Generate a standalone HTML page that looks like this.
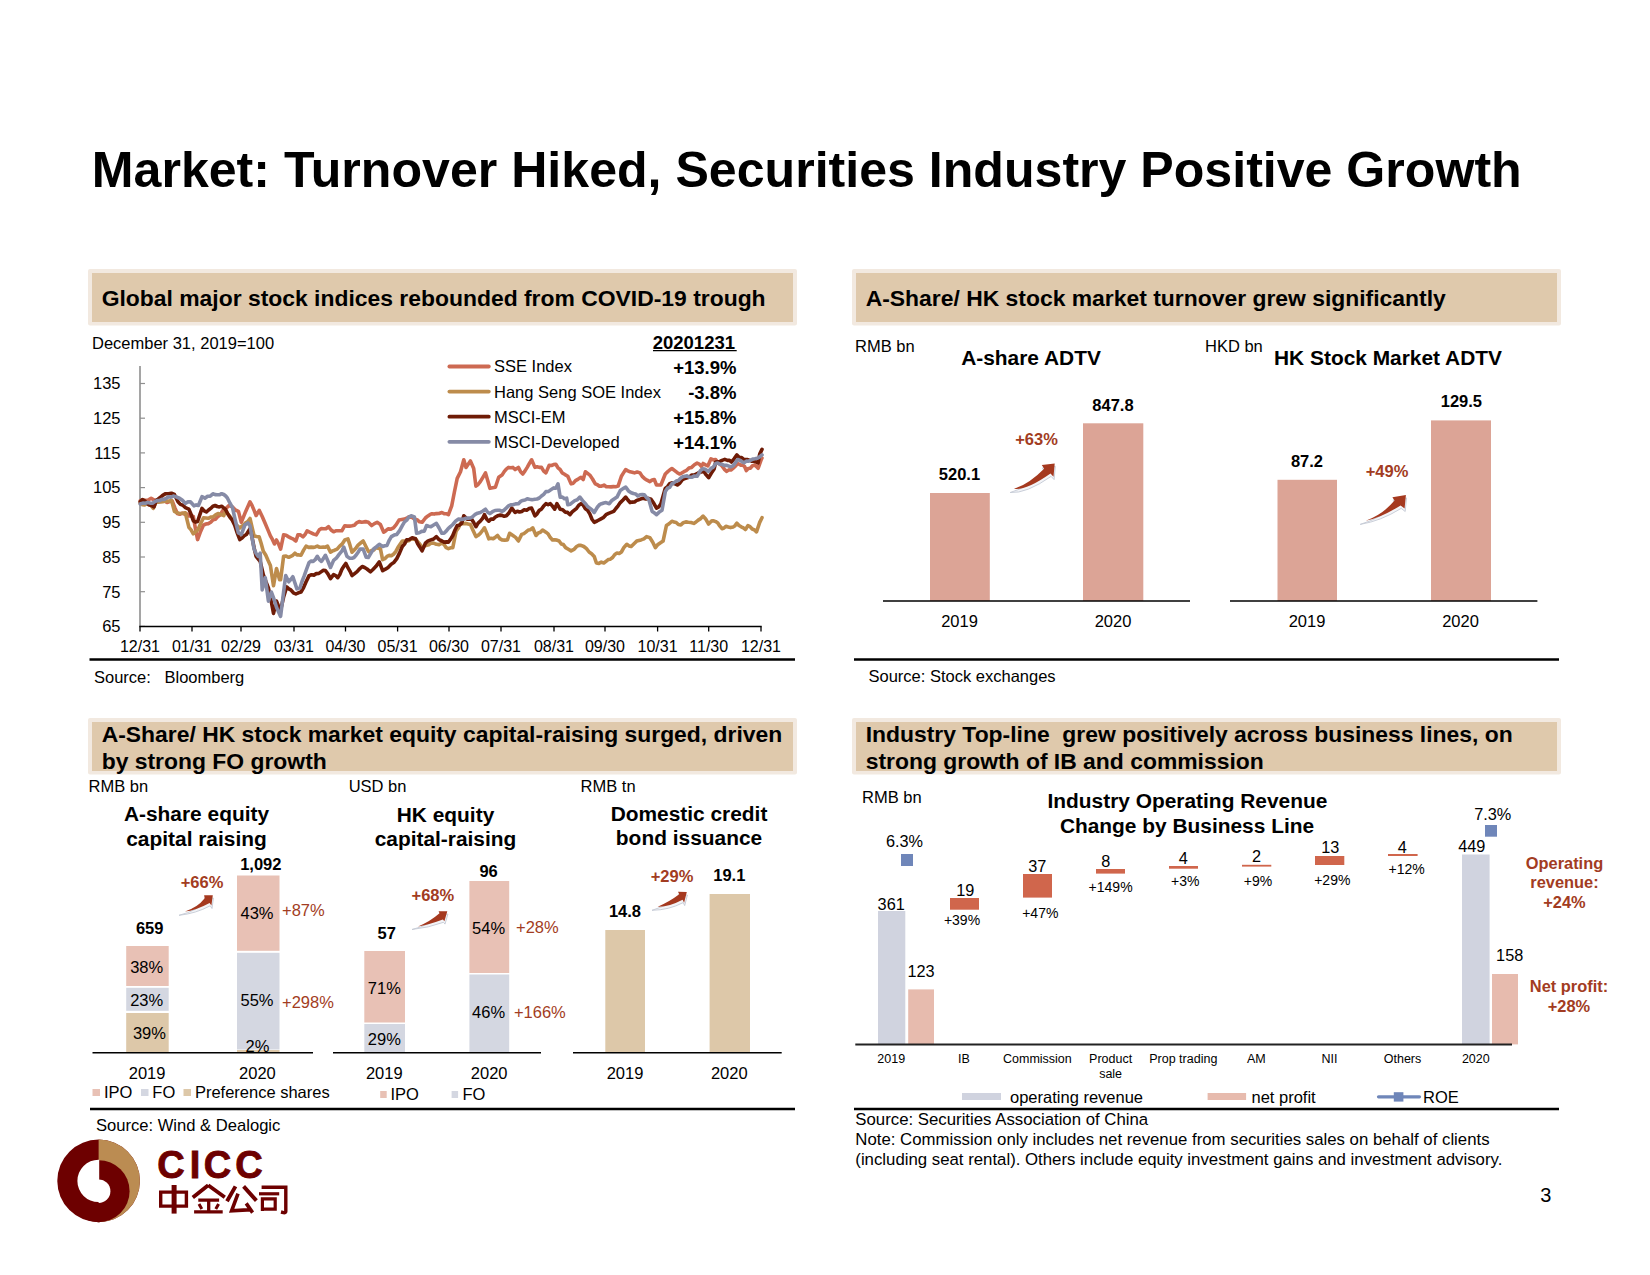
<!DOCTYPE html>
<html><head><meta charset="utf-8"><style>
html,body{margin:0;padding:0;background:#fff;}
body{width:1650px;height:1275px;overflow:hidden;}
svg{display:block;font-family:"Liberation Sans",sans-serif;}
</style></head><body>
<svg width="1650" height="1275" viewBox="0 0 1650 1275">
<rect width="1650" height="1275" fill="#fff"/>
<text x="91.8" y="187" font-size="50.1" font-weight="bold">Market: Turnover Hiked, Securities Industry Positive Growth</text>
<rect x="88" y="269" width="709" height="56.5" rx="2" fill="#f2e9e0"/>
<rect x="92" y="273" width="701" height="49.0" fill="#dfc9ac"/>
<rect x="852" y="269" width="709" height="56.5" rx="2" fill="#f2e9e0"/>
<rect x="856" y="273" width="701" height="49.0" fill="#dfc9ac"/>
<rect x="88" y="718" width="709" height="56.5" rx="2" fill="#f2e9e0"/>
<rect x="92" y="722" width="701" height="49.0" fill="#dfc9ac"/>
<rect x="852" y="718" width="709" height="56.5" rx="2" fill="#f2e9e0"/>
<rect x="856" y="722" width="701" height="49.0" fill="#dfc9ac"/>
<text x="101.7" y="305.5" font-size="22.9" font-weight="bold">Global major stock indices rebounded from COVID-19 trough</text>
<text x="865.7" y="305.5" font-size="22.9" font-weight="bold">A-Share/ HK stock market turnover grew significantly</text>
<text x="101.7" y="741.7" font-size="22.9" font-weight="bold">A-Share/ HK stock market equity capital-raising surged, driven</text>
<text x="101.7" y="768.6" font-size="22.9" font-weight="bold">by strong FO growth</text>
<text x="865.7" y="741.7" font-size="22.9" font-weight="bold">Industry Top-line&#160; grew positively across business lines, on</text>
<text x="865.7" y="768.6" font-size="22.9" font-weight="bold">strong growth of IB and commission</text>
<text x="92" y="349" font-size="16.5">December 31, 2019=100</text>
<line x1="140" y1="366" x2="140" y2="626.4" stroke="#8f8f8f" stroke-width="1.6"/>
<line x1="140" y1="383.5" x2="145" y2="383.5" stroke="#8f8f8f" stroke-width="1.2"/>
<text x="120.5" y="389.3" font-size="16.5" text-anchor="end">135</text>
<line x1="140" y1="418.2" x2="145" y2="418.2" stroke="#8f8f8f" stroke-width="1.2"/>
<text x="120.5" y="424.0" font-size="16.5" text-anchor="end">125</text>
<line x1="140" y1="452.9" x2="145" y2="452.9" stroke="#8f8f8f" stroke-width="1.2"/>
<text x="120.5" y="458.7" font-size="16.5" text-anchor="end">115</text>
<line x1="140" y1="487.6" x2="145" y2="487.6" stroke="#8f8f8f" stroke-width="1.2"/>
<text x="120.5" y="493.4" font-size="16.5" text-anchor="end">105</text>
<line x1="140" y1="522.3" x2="145" y2="522.3" stroke="#8f8f8f" stroke-width="1.2"/>
<text x="120.5" y="528.1" font-size="16.5" text-anchor="end">95</text>
<line x1="140" y1="557.0" x2="145" y2="557.0" stroke="#8f8f8f" stroke-width="1.2"/>
<text x="120.5" y="562.8" font-size="16.5" text-anchor="end">85</text>
<line x1="140" y1="591.7" x2="145" y2="591.7" stroke="#8f8f8f" stroke-width="1.2"/>
<text x="120.5" y="597.5" font-size="16.5" text-anchor="end">75</text>
<line x1="140" y1="626.4" x2="145" y2="626.4" stroke="#8f8f8f" stroke-width="1.2"/>
<text x="120.5" y="632.2" font-size="16.5" text-anchor="end">65</text>
<line x1="140" y1="626.4" x2="140" y2="631.5" stroke="#000" stroke-width="1.3"/>
<text x="140" y="652" font-size="16" text-anchor="middle">12/31</text>
<line x1="192" y1="626.4" x2="192" y2="631.5" stroke="#000" stroke-width="1.3"/>
<text x="192" y="652" font-size="16" text-anchor="middle">01/31</text>
<line x1="241" y1="626.4" x2="241" y2="631.5" stroke="#000" stroke-width="1.3"/>
<text x="241" y="652" font-size="16" text-anchor="middle">02/29</text>
<line x1="294" y1="626.4" x2="294" y2="631.5" stroke="#000" stroke-width="1.3"/>
<text x="294" y="652" font-size="16" text-anchor="middle">03/31</text>
<line x1="345.5" y1="626.4" x2="345.5" y2="631.5" stroke="#000" stroke-width="1.3"/>
<text x="345.5" y="652" font-size="16" text-anchor="middle">04/30</text>
<line x1="397.6" y1="626.4" x2="397.6" y2="631.5" stroke="#000" stroke-width="1.3"/>
<text x="397.6" y="652" font-size="16" text-anchor="middle">05/31</text>
<line x1="449" y1="626.4" x2="449" y2="631.5" stroke="#000" stroke-width="1.3"/>
<text x="449" y="652" font-size="16" text-anchor="middle">06/30</text>
<line x1="501" y1="626.4" x2="501" y2="631.5" stroke="#000" stroke-width="1.3"/>
<text x="501" y="652" font-size="16" text-anchor="middle">07/31</text>
<line x1="554" y1="626.4" x2="554" y2="631.5" stroke="#000" stroke-width="1.3"/>
<text x="554" y="652" font-size="16" text-anchor="middle">08/31</text>
<line x1="605" y1="626.4" x2="605" y2="631.5" stroke="#000" stroke-width="1.3"/>
<text x="605" y="652" font-size="16" text-anchor="middle">09/30</text>
<line x1="657.6" y1="626.4" x2="657.6" y2="631.5" stroke="#000" stroke-width="1.3"/>
<text x="657.6" y="652" font-size="16" text-anchor="middle">10/31</text>
<line x1="708.7" y1="626.4" x2="708.7" y2="631.5" stroke="#000" stroke-width="1.3"/>
<text x="708.7" y="652" font-size="16" text-anchor="middle">11/30</text>
<line x1="761" y1="626.4" x2="761" y2="631.5" stroke="#000" stroke-width="1.3"/>
<text x="761" y="652" font-size="16" text-anchor="middle">12/31</text>
<line x1="139.3" y1="626.4" x2="761.7" y2="626.4" stroke="#000" stroke-width="1.5"/>
<g fill="none" stroke-width="3.6" stroke-linejoin="round" stroke-linecap="round">
<polyline stroke="#cd6a52" points="140.2,501.0 142.8,500.0 145.3,500.4 148.2,500.0 151.1,498.2 154.7,500.4 157.2,499.8 159.8,498.2 162.2,499.1 164.7,501.1 167.1,502.5 169.6,501.6 172.2,501.0 174.8,507.6 177.3,513.5 179.7,514.3 182.1,513.2 184.5,514.2 186.7,513.8 188.9,516.0 191.1,515.7 193.3,516.4 195.4,528.5 197.6,539.6 200.6,531.4 203.5,525.1 205.9,524.0 208.3,523.6 210.7,522.2 213.1,519.7 215.6,519.2 218.0,516.4 220.2,515.0 222.4,511.1 224.5,508.9 226.7,507.8 228.9,505.5 232.5,506.9 235.4,510.0 238.4,511.3 241.3,522.2 243.5,516.9 245.7,511.4 247.8,506.7 250.0,501.8 252.0,505.4 254.1,510.4 256.1,515.5 259.2,510.4 262.2,516.5 264.9,522.8 267.7,529.4 270.4,535.9 272.4,539.4 274.5,544.0 276.5,540.0 278.6,544.0 280.6,549.1 283.6,534.9 286.1,535.3 288.7,536.9 291.1,538.2 293.5,539.2 295.9,541.0 297.9,534.9 300.4,534.9 303.0,536.9 305.1,534.5 307.1,530.8 309.1,531.9 311.2,532.8 313.8,534.1 316.3,534.9 319.3,529.8 321.4,528.6 323.4,528.7 325.9,528.7 328.5,526.7 331.1,530.0 333.6,531.8 336.3,530.7 339.1,530.8 341.8,530.8 344.8,525.7 347.2,526.1 349.6,526.1 352.0,525.7 354.4,525.2 356.7,522.8 359.1,521.6 361.5,522.3 363.8,521.9 366.2,521.6 368.3,522.3 371.6,525.6 374.4,523.6 377.1,522.3 380.4,524.5 383.7,532.2 385.9,530.7 388.1,528.9 390.8,529.1 393.5,527.8 396.2,524.6 399.0,520.1 401.8,519.6 404.5,519.1 406.7,518.2 408.9,516.9 411.6,517.1 414.4,519.1 417.0,519.7 419.5,521.8 422.1,522.3 425.4,518.0 427.6,516.2 429.8,514.7 432.0,513.7 434.2,514.1 436.4,513.6 439.1,513.5 441.9,512.5 444.1,513.6 446.2,513.7 448.4,514.7 451.7,505.9 454.4,492.0 457.2,478.4 460.5,471.8 463.8,459.8 466.0,467.4 468.2,464.2 470.4,460.9 473.7,468.5 475.9,486.1 478.1,484.5 480.3,481.7 482.9,477.3 485.5,472.9 487.7,480.4 489.9,488.3 492.6,487.7 495.4,487.2 498.7,477.3 502.0,475.1 504.2,471.6 506.3,469.1 508.5,467.4 510.7,467.8 512.9,467.4 515.1,469.6 518.4,467.4 520.6,471.7 522.8,474.0 525.0,470.9 527.2,467.4 529.4,463.4 531.6,459.8 534.9,467.4 537.1,466.7 539.3,467.4 541.5,467.4 543.7,471.1 545.9,472.9 549.2,465.3 551.4,465.5 553.6,464.6 555.8,464.2 558.0,467.8 560.1,469.5 562.3,472.9 565.0,474.6 567.8,476.2 571.1,483.9 573.3,483.2 575.5,480.6 578.2,479.1 581.0,477.3 583.2,479.5 585.4,471.8 587.6,473.4 589.8,475.1 592.5,479.0 595.3,483.9 597.4,484.7 599.5,486.3 601.6,486.1 604.0,485.1 606.3,486.7 608.7,486.7 611.0,486.9 613.4,486.6 615.7,486.7 618.1,486.1 621.4,476.2 623.5,472.9 625.7,469.6 627.9,470.8 630.1,471.8 632.3,472.2 634.5,472.9 637.2,472.0 640.0,472.9 642.2,476.4 644.4,478.4 647.1,480.2 649.9,481.7 652.1,480.0 654.3,479.5 656.5,485.0 658.7,485.0 660.9,485.0 663.1,479.5 665.3,474.0 667.5,471.9 669.7,470.0 671.9,468.5 674.4,470.4 677.0,472.4 679.5,474.0 681.7,473.1 683.9,471.7 686.1,470.7 688.9,468.1 691.6,467.4 694.4,464.7 697.1,463.1 699.3,464.1 701.5,466.4 703.1,463.5 705.5,464.9 707.8,465.9 711.0,458.8 713.4,459.9 715.7,459.6 717.8,462.3 719.9,464.4 722.0,465.9 724.4,469.3 726.7,471.4 728.8,469.9 730.9,470.0 733.0,468.3 735.4,466.2 737.7,463.5 740.8,465.1 742.8,465.1 744.7,466.7 746.3,470.6 748.2,468.5 750.2,468.3 752.5,465.7 754.9,465.1 758.1,468.3 761.2,459.6 762.0,458.0"/>
<polyline stroke="#bd8c4c" points="140.2,503.3 142.4,504.6 144.6,504.9 146.7,503.5 148.9,504.7 151.1,505.7 153.3,508.4 156.2,501.8 158.4,502.3 160.6,502.0 162.7,501.7 164.9,500.9 167.1,501.1 169.3,501.0 171.5,500.4 174.4,511.3 176.9,512.6 179.5,513.5 182.4,513.3 185.3,512.7 188.9,527.3 191.1,529.9 193.3,533.8 195.4,531.9 197.6,530.2 200.6,523.8 203.5,517.8 205.9,518.0 208.3,518.3 210.7,517.1 213.1,516.8 215.6,514.8 218.0,513.5 220.9,514.4 223.8,515.6 225.3,511.3 227.7,513.9 230.0,516.5 232.3,519.6 234.7,523.6 237.2,525.7 239.8,528.0 241.7,526.2 243.5,525.1 245.7,522.7 247.8,521.5 250.0,518.5 252.1,527.3 254.1,535.9 256.6,536.5 259.2,536.9 261.2,543.5 263.3,551.2 265.7,555.0 268.0,560.3 270.4,565.4 273.5,585.8 276.5,568.5 279.6,579.7 280.6,579.7 283.6,556.3 286.1,556.1 288.7,557.3 290.8,556.3 292.8,555.3 294.9,553.2 296.9,554.9 299.0,554.9 301.0,555.3 303.6,550.1 306.1,546.1 308.6,547.4 311.2,547.1 313.2,547.4 315.3,546.9 317.3,546.1 319.3,547.2 321.4,547.3 323.4,547.1 325.4,547.2 327.5,546.1 330.5,552.2 332.6,550.9 334.6,550.2 337.1,549.1 339.7,546.1 342.2,544.0 344.8,540.0 347.9,538.9 349.9,544.9 352.0,552.2 354.0,550.3 356.1,547.9 358.1,545.1 360.6,543.0 363.2,541.0 365.8,546.2 368.3,551.2 369.4,552.0 371.6,550.5 373.8,549.9 376.0,547.6 378.2,548.2 380.4,548.7 382.6,559.7 384.8,558.7 387.0,556.4 389.2,555.4 391.3,555.7 393.5,554.2 395.7,551.7 397.9,547.6 400.1,544.2 402.3,541.0 404.5,541.1 406.7,541.0 408.9,540.7 411.1,538.8 413.3,539.2 415.5,538.8 417.7,541.7 419.9,544.1 422.1,547.6 424.3,546.1 426.5,545.4 428.7,544.7 430.9,543.2 433.6,543.1 436.4,544.3 439.1,544.6 441.9,543.2 444.1,544.6 446.2,547.7 448.4,548.7 450.6,547.8 452.8,547.6 456.1,531.1 458.3,528.2 460.5,523.4 463.2,523.8 466.0,523.4 468.2,524.0 470.4,524.5 473.1,530.6 475.9,536.6 478.1,535.3 480.3,533.3 482.4,530.7 484.4,527.8 486.6,532.9 488.8,538.8 491.0,538.2 493.2,538.8 495.4,537.2 497.6,535.5 499.8,538.6 502.0,539.9 504.7,540.1 507.4,539.9 509.6,533.3 512.9,535.5 515.6,537.4 518.4,541.0 521.7,534.4 523.9,533.6 526.1,531.9 528.3,530.0 530.5,529.7 532.7,527.8 536.0,535.5 538.2,533.0 540.4,532.3 542.6,530.0 545.9,532.2 548.1,533.9 550.3,537.6 552.5,539.9 554.7,539.8 556.9,540.1 559.1,541.0 561.3,544.0 563.4,544.6 565.6,547.6 568.4,549.3 571.1,550.9 573.9,549.4 576.6,546.5 578.8,545.4 581.0,545.4 583.8,546.5 586.5,548.7 589.1,552.0 591.6,553.7 594.2,556.4 596.4,563.0 598.9,563.4 601.3,562.1 603.8,563.0 606.0,561.3 608.2,559.6 610.4,559.2 612.6,557.5 614.8,554.5 617.0,553.1 619.2,553.5 621.4,552.0 624.1,547.2 626.8,544.3 629.0,545.9 631.2,546.5 634.5,543.2 636.7,541.1 638.9,540.5 641.1,539.9 643.9,538.9 646.6,536.6 649.9,537.7 652.6,542.0 655.4,547.6 657.6,544.8 659.8,543.2 663.1,541.0 666.4,525.6 669.1,523.8 671.9,521.2 674.1,522.1 676.2,522.5 678.4,524.5 680.9,524.9 683.3,522.7 685.8,521.9 688.3,522.3 691.0,522.5 693.8,523.4 696.0,522.0 698.2,520.1 700.7,518.6 703.1,516.1 705.9,519.3 708.6,524.0 711.8,520.8 713.8,520.9 715.7,521.6 717.8,523.0 719.9,526.2 722.0,528.7 724.0,528.0 725.9,526.3 728.3,527.0 730.6,527.6 733.0,527.1 735.0,525.7 736.9,523.2 739.0,525.5 741.2,526.8 743.4,527.9 745.5,529.5 747.9,525.6 750.0,526.6 752.2,529.0 754.4,529.9 756.5,531.8 759.7,522.4 762.0,517.7"/>
<polyline stroke="#6e1b06" points="140.2,501.8 142.4,499.6 144.6,500.8 146.7,503.1 148.9,504.7 151.4,505.5 154.0,506.9 156.2,500.4 158.4,498.9 160.5,497.3 162.7,495.3 165.6,493.7 168.5,493.8 171.4,493.2 174.4,494.5 178.0,501.8 180.4,504.4 182.9,505.2 185.3,507.6 188.9,509.1 191.1,514.4 193.3,520.7 195.4,522.1 197.6,521.5 199.8,514.9 202.0,508.4 204.2,510.9 206.4,512.0 208.6,510.0 210.7,508.4 212.9,506.2 215.1,505.5 217.2,506.5 219.4,506.9 221.6,506.2 223.4,507.7 225.3,509.1 227.7,513.6 230.0,517.4 232.3,520.2 234.7,525.1 237.2,532.9 239.8,539.6 242.0,538.1 244.2,535.8 246.4,534.5 250.0,528.7 252.0,537.0 254.1,547.8 256.1,556.3 258.1,558.8 260.2,561.4 263.3,574.6 265.9,581.7 268.4,587.9 271.4,602.2 273.5,613.4 276.5,601.1 278.6,606.5 280.6,610.3 283.6,597.1 286.7,586.9 288.8,588.8 290.8,589.9 293.4,592.8 295.9,594.0 298.4,592.8 301.0,592.0 303.6,587.5 306.1,581.8 309.1,575.6 311.5,574.8 313.9,575.1 316.3,573.6 318.9,573.4 321.4,571.6 323.4,570.2 325.4,570.5 327.9,573.9 330.5,578.7 333.6,574.6 335.6,575.6 337.7,577.7 339.8,574.5 341.8,569.5 343.8,566.3 345.8,563.4 347.9,567.7 349.9,571.1 352.0,575.6 354.6,573.6 357.1,571.6 359.6,568.8 362.2,566.5 364.6,567.5 367.0,569.0 370.5,571.8 373.2,569.2 376.0,566.3 379.3,561.9 382.6,570.7 385.4,569.2 388.1,567.4 391.4,564.1 394.1,562.2 396.8,558.6 399.6,552.9 402.3,546.5 404.5,544.1 406.7,539.9 409.4,539.5 412.2,537.7 415.5,538.8 417.7,543.8 419.9,547.2 422.1,550.9 425.4,543.2 428.1,540.9 430.9,539.9 433.6,539.0 436.4,536.6 439.1,539.7 441.9,541.0 444.1,542.2 446.2,541.9 448.4,542.1 450.6,539.2 452.8,535.5 455.0,530.0 457.2,525.6 459.4,525.2 461.6,523.4 463.8,515.8 467.1,519.1 469.3,519.2 471.5,519.1 473.7,522.5 475.9,526.7 478.1,523.1 480.3,521.2 482.4,518.7 484.4,514.7 486.6,518.9 488.8,521.2 491.0,519.0 493.2,519.1 495.4,517.0 497.6,515.8 499.8,515.1 502.0,515.4 504.2,516.3 506.4,515.8 509.1,512.7 511.8,508.1 515.1,512.5 517.3,511.2 519.5,512.0 521.7,511.4 524.2,509.7 526.7,510.2 529.1,508.6 531.6,508.1 534.9,515.8 537.1,513.8 539.3,510.3 541.5,509.1 543.7,505.9 545.9,503.7 548.1,504.7 550.3,503.7 552.5,506.1 554.7,509.2 556.9,503.7 560.2,509.2 562.7,509.7 565.1,512.1 567.5,512.4 570.0,514.7 572.2,511.9 574.4,510.1 576.6,508.3 578.8,505.2 581.0,503.7 583.2,505.0 585.4,508.8 587.6,510.3 589.8,513.9 592.0,519.2 594.2,522.3 597.0,521.0 600.5,519.1 603.2,517.7 606.0,514.7 608.6,513.4 611.1,512.4 613.7,511.4 615.9,508.5 618.1,505.8 620.3,502.6 623.0,500.0 625.7,497.1 627.9,500.0 630.1,502.6 632.3,502.1 634.5,502.0 636.7,500.4 638.9,499.7 641.1,498.8 643.3,498.2 645.9,499.0 648.4,498.4 651.0,499.3 653.8,503.3 656.5,508.1 658.7,506.9 660.9,503.7 663.1,496.0 665.3,488.3 667.5,486.6 669.7,483.7 671.9,482.8 674.6,483.7 677.3,485.0 679.9,483.0 682.4,479.6 685.0,478.4 687.2,477.8 689.4,477.0 691.6,475.0 693.8,475.1 696.0,474.3 698.2,472.9 701.0,472.1 703.9,471.4 706.2,474.9 708.6,477.7 711.4,473.1 714.1,469.0 715.7,462.0 717.8,461.9 719.9,461.4 722.0,460.4 724.8,459.4 727.5,460.4 729.5,460.3 731.4,462.0 734.1,458.8 736.9,454.9 739.3,457.4 741.6,457.5 744.0,459.6 747.1,459.6 749.3,460.2 751.5,461.1 753.7,461.2 755.9,461.9 758.1,462.8 759.7,454.1 762.0,449.4"/>
<polyline stroke="#868ba6" points="140.2,504.0 142.8,503.1 145.3,503.3 147.7,502.5 150.1,503.1 152.5,503.3 154.9,501.6 157.4,500.5 159.8,500.4 162.0,499.3 164.2,499.4 166.3,498.2 168.5,496.7 170.9,497.2 173.4,496.1 175.8,496.7 177.7,497.5 179.5,498.2 182.4,500.3 185.3,503.3 187.9,501.9 190.4,501.8 194.0,505.8 196.2,504.9 198.4,505.5 202.0,496.7 204.9,498.2 207.6,496.2 210.2,496.1 212.9,493.8 215.1,494.6 217.3,494.7 219.4,494.8 221.6,493.7 223.8,494.5 225.7,496.0 227.5,498.2 230.0,503.2 232.5,507.6 235.4,520.8 238.4,533.0 241.3,534.5 244.9,525.0 247.8,522.9 250.0,525.7 252.1,538.1 254.1,549.1 256.1,553.5 258.2,556.3 260.2,553.2 262.2,589.9 265.3,577.7 268.4,601.1 271.4,592.0 273.9,598.8 276.5,607.3 278.6,612.1 280.6,616.4 283.6,592.0 285.7,575.6 288.7,581.8 290.8,579.6 292.8,576.7 294.9,582.8 296.9,588.9 300.0,587.9 302.0,581.5 304.1,576.2 306.1,570.5 309.1,562.4 311.1,561.1 313.2,561.4 315.2,559.7 317.3,556.3 319.4,559.6 321.4,561.4 323.4,558.4 325.4,555.3 327.9,561.0 330.5,567.5 333.6,560.4 336.3,558.2 339.1,554.4 341.8,551.2 343.8,547.1 346.9,556.3 349.4,558.1 352.0,558.3 354.0,557.5 356.0,555.3 358.1,552.2 360.1,549.1 363.2,549.1 366.2,557.3 368.3,557.5 371.1,552.9 373.8,548.7 376.6,546.7 379.3,544.3 382.6,546.5 384.8,545.8 387.0,545.4 389.2,540.3 391.4,536.6 394.1,535.1 396.8,534.4 399.6,530.6 402.3,525.6 404.5,521.9 406.7,520.1 408.9,517.0 411.1,515.8 414.4,516.9 416.6,533.3 419.2,532.8 421.7,531.4 424.3,531.1 426.5,525.6 428.7,526.2 430.9,526.7 433.6,525.0 436.4,523.4 439.1,528.0 441.9,533.3 444.0,533.2 446.2,531.1 448.4,528.3 450.6,526.5 452.8,524.5 455.6,521.2 458.3,519.1 461.1,519.4 463.8,519.1 466.0,518.3 468.2,518.1 470.4,518.0 472.6,516.8 474.8,514.7 477.6,513.2 480.3,512.5 482.9,511.0 485.5,509.2 487.7,512.2 489.9,513.6 492.5,511.7 495.0,510.5 497.6,510.3 499.8,510.3 502.0,511.4 504.2,510.1 506.3,508.0 508.5,505.9 510.7,504.8 512.9,504.8 515.6,503.9 518.4,503.7 520.6,501.4 522.8,500.4 525.0,500.0 527.2,498.8 529.4,499.3 532.1,499.7 534.9,499.3 537.1,499.0 539.3,498.0 541.5,496.0 543.7,494.3 545.9,491.6 548.6,491.4 551.4,489.4 553.6,487.9 555.8,488.3 558.0,483.9 560.2,497.1 562.4,497.0 564.5,498.8 566.7,498.2 567.8,504.8 570.0,504.3 572.2,502.6 574.8,500.6 577.3,499.8 579.9,497.1 582.6,500.6 585.4,503.7 587.6,506.5 589.8,508.1 592.0,509.9 594.2,512.5 597.5,507.0 599.5,504.7 601.6,503.7 603.8,503.0 606.0,502.6 609.3,503.7 611.5,500.8 613.7,499.3 617.0,497.1 620.3,490.5 623.0,488.6 625.7,487.2 628.5,490.9 631.2,492.7 633.4,493.5 635.6,493.9 637.8,496.0 640.0,494.7 642.2,494.6 644.4,494.9 646.6,497.7 648.8,499.3 652.1,511.4 654.3,512.8 656.5,514.7 659.2,512.1 662.0,510.3 665.3,491.6 667.5,488.2 669.7,487.4 671.9,483.9 674.1,482.6 676.2,481.1 678.4,480.6 680.6,478.3 682.8,476.8 685.0,476.2 687.2,475.9 689.4,477.3 691.6,477.3 694.4,476.0 697.1,476.2 700.4,470.7 702.5,468.9 704.7,469.0 706.7,470.2 708.6,471.4 711.0,468.3 713.3,467.1 715.7,463.5 717.8,463.0 719.9,464.1 722.0,464.3 724.1,465.4 726.2,465.2 728.3,465.9 730.6,466.9 733.0,465.9 735.4,462.7 737.7,459.6 739.8,460.2 741.9,461.6 744.0,462.8 746.4,461.1 748.7,461.2 750.8,460.2 752.8,459.1 754.9,458.8 757.3,458.3 759.6,456.9 762.0,454.9"/>
</g>
<text x="735" y="348.8" font-size="18.5" font-weight="bold" text-anchor="end">20201231</text>
<line x1="653" y1="350.6" x2="736.7" y2="350.6" stroke="#000" stroke-width="1.3"/>
<line x1="449.4" y1="366.5" x2="488.8" y2="366.5" stroke="#cd6a52" stroke-width="3.8" stroke-linecap="round"/>
<text x="494" y="372.4" font-size="16.5">SSE Index</text>
<text x="736.5" y="374.0" font-size="18.5" font-weight="bold" text-anchor="end">+13.9%</text>
<line x1="449.4" y1="391.6" x2="488.8" y2="391.6" stroke="#bd8c4c" stroke-width="3.8" stroke-linecap="round"/>
<text x="494" y="397.5" font-size="16.5">Hang Seng SOE Index</text>
<text x="736.5" y="399.1" font-size="18.5" font-weight="bold" text-anchor="end">-3.8%</text>
<line x1="449.4" y1="416.7" x2="488.8" y2="416.7" stroke="#6e1b06" stroke-width="3.8" stroke-linecap="round"/>
<text x="494" y="422.6" font-size="16.5">MSCI-EM</text>
<text x="736.5" y="424.2" font-size="18.5" font-weight="bold" text-anchor="end">+15.8%</text>
<line x1="449.4" y1="441.8" x2="488.8" y2="441.8" stroke="#868ba6" stroke-width="3.8" stroke-linecap="round"/>
<text x="494" y="447.7" font-size="16.5">MSCI-Developed</text>
<text x="736.5" y="449.3" font-size="18.5" font-weight="bold" text-anchor="end">+14.1%</text>
<line x1="89.5" y1="659.5" x2="795" y2="659.5" stroke="#000" stroke-width="2.6"/>
<text x="94" y="682.7" font-size="16.5">Source:</text>
<text x="164.5" y="682.7" font-size="16.5">Bloomberg</text>
<text x="855" y="351.8" font-size="16.5">RMB bn</text>
<text x="1031" y="364.6" font-size="20.9" font-weight="bold" text-anchor="middle">A-share ADTV</text>
<rect x="930" y="493" width="59.8" height="108" fill="#dca496"/>
<rect x="1083" y="423.3" width="60.3" height="177.7" fill="#dca496"/>
<line x1="883" y1="601" x2="1190" y2="601" stroke="#000" stroke-width="1.6"/>
<text x="959.5" y="479.6" font-size="16.5" font-weight="bold" text-anchor="middle">520.1</text>
<text x="1113" y="410.6" font-size="16.5" font-weight="bold" text-anchor="middle">847.8</text>
<text x="1036.5" y="444.6" font-size="16.5" font-weight="bold" text-anchor="middle" fill="#a23c22">+63%</text>
<text x="959.5" y="627.3" font-size="16.5" text-anchor="middle">2019</text>
<text x="1113" y="627.3" font-size="16.5" text-anchor="middle">2020</text>
<text x="1205" y="351.7" font-size="16.5">HKD bn</text>
<text x="1388" y="364.8" font-size="20.9" font-weight="bold" text-anchor="middle">HK Stock Market ADTV</text>
<rect x="1277.5" y="479.8" width="59.5" height="121.2" fill="#dca496"/>
<rect x="1431" y="420.4" width="60" height="180.6" fill="#dca496"/>
<line x1="1230" y1="601" x2="1537.4" y2="601" stroke="#000" stroke-width="1.6"/>
<text x="1307" y="466.8" font-size="16.5" font-weight="bold" text-anchor="middle">87.2</text>
<text x="1461.4" y="406.9" font-size="16.5" font-weight="bold" text-anchor="middle">129.5</text>
<text x="1387" y="476.9" font-size="16.5" font-weight="bold" text-anchor="middle" fill="#a23c22">+49%</text>
<text x="1307" y="627.2" font-size="16.5" text-anchor="middle">2019</text>
<text x="1460.5" y="627.2" font-size="16.5" text-anchor="middle">2020</text>
<line x1="854" y1="659.5" x2="1559" y2="659.5" stroke="#000" stroke-width="2.6"/>
<text x="868.5" y="681.5" font-size="16.5">Source: Stock exchanges</text>
<path d="M1010.20,492.50 Q1029.55,486.95 1044.70,471.60 L1042.40,468.00 L1055.30,466.30 L1054.10,479.60 L1051.10,476.40 Q1026.35,493.75 1010.20,492.50 Z" fill="#f3f4f7" stroke="#c4c9d5" stroke-width="0.9"/>
<path d="M1014.00,488.80 Q1028.95,484.05 1044.10,468.70 L1041.80,465.10 L1054.70,463.40 L1053.50,476.70 L1050.50,473.50 Q1025.75,490.85 1014.00,488.80 Z" fill="#a5391f"/>
<path d="M1360.20,524.40 Q1383.45,517.45 1395.10,503.50 L1393.00,500.10 L1406.50,497.90 L1405.20,511.50 L1401.20,508.40 Q1380.40,521.20 1360.20,524.40 Z" fill="#f3f4f7" stroke="#c4c9d5" stroke-width="0.9"/>
<path d="M1365.80,520.70 Q1382.85,514.55 1394.50,500.60 L1392.40,497.20 L1405.90,495.00 L1404.60,508.60 L1400.60,505.50 Q1379.80,518.30 1365.80,520.70 Z" fill="#a5391f"/>
<path d="M179.00,915.30 Q198.15,910.45 205.30,901.20 L204.70,898.20 L213.40,898.10 L212.00,908.50 L210.20,905.80 Q195.70,913.55 179.00,915.30 Z" fill="#f3f4f7" stroke="#c4c9d5" stroke-width="0.9"/>
<path d="M185.00,911.40 Q197.55,907.55 204.70,898.30 L204.10,895.30 L212.80,895.20 L211.40,905.60 L209.60,902.90 Q195.10,910.65 185.00,911.40 Z" fill="#a5391f"/>
<path d="M412.00,929.50 Q430.25,924.85 440.10,916.20 L439.20,914.10 L447.90,914.10 L445.00,924.10 L443.50,922.30 Q428.55,927.80 412.00,929.50 Z" fill="#f3f4f7" stroke="#c4c9d5" stroke-width="0.9"/>
<path d="M418.00,926.40 Q429.65,921.95 439.50,913.30 L438.60,911.20 L447.30,911.20 L444.40,921.20 L442.90,919.40 Q427.95,924.90 418.00,926.40 Z" fill="#a5391f"/>
<path d="M652.00,910.30 Q670.55,904.25 679.80,897.10 L678.60,894.60 L687.40,895.00 L684.70,905.60 L683.20,902.60 Q668.85,910.10 652.00,910.30 Z" fill="#f3f4f7" stroke="#c4c9d5" stroke-width="0.9"/>
<path d="M657.70,906.70 Q669.95,901.35 679.20,894.20 L678.00,891.70 L686.80,892.10 L684.10,902.70 L682.60,899.70 Q668.25,907.20 657.70,906.70 Z" fill="#a5391f"/>
<text x="88.5" y="792.2" font-size="16.5">RMB bn</text>
<text x="196.5" y="820.9" font-size="20.9" font-weight="bold" text-anchor="middle">A-share equity</text>
<text x="196.5" y="845.8" font-size="20.9" font-weight="bold" text-anchor="middle">capital raising</text>
<rect x="126.2" y="946" width="42.5" height="40" fill="#e8c1b5"/>
<rect x="126.2" y="987.8" width="42.5" height="23" fill="#d4d7e1"/>
<rect x="126.2" y="1013" width="42.5" height="39.5" fill="#ddc8a9"/>
<rect x="237" y="875.5" width="42.5" height="75.3" fill="#e8c1b5"/>
<rect x="237" y="952.8" width="42.5" height="96.7" fill="#d4d7e1"/>
<rect x="237" y="1050" width="42.5" height="2.5" fill="#ddc8a9"/>
<line x1="92.5" y1="1052.7" x2="313" y2="1052.7" stroke="#000" stroke-width="1.5"/>
<text x="260.8" y="869.5" font-size="16.5" font-weight="bold" text-anchor="middle">1,092</text>
<text x="202" y="887.8" font-size="16.5" font-weight="bold" text-anchor="middle" fill="#a23c22">+66%</text>
<text x="149.7" y="933.6" font-size="16.5" font-weight="bold" text-anchor="middle">659</text>
<text x="257" y="919.4" font-size="16.5" text-anchor="middle">43%</text>
<text x="282" y="916" font-size="16.5" fill="#a23c22">+87%</text>
<text x="146.7" y="972.8" font-size="16.5" text-anchor="middle">38%</text>
<text x="146.7" y="1005.8" font-size="16.5" text-anchor="middle">23%</text>
<text x="257" y="1005.8" font-size="16.5" text-anchor="middle">55%</text>
<text x="282" y="1007.5" font-size="16.5" fill="#a23c22">+298%</text>
<text x="149.4" y="1038.8" font-size="16.5" text-anchor="middle">39%</text>
<text x="257.4" y="1052.3" font-size="16.5" text-anchor="middle">2%</text>
<text x="147.1" y="1079" font-size="16.5" text-anchor="middle">2019</text>
<text x="257.4" y="1079" font-size="16.5" text-anchor="middle">2020</text>
<rect x="92.5" y="1089" width="7.5" height="7" fill="#e8c1b5"/>
<text x="103.9" y="1097.6" font-size="16.5">IPO</text>
<rect x="141" y="1089" width="7.5" height="7" fill="#d4d7e1"/>
<text x="152.3" y="1097.6" font-size="16.5">FO</text>
<rect x="183.5" y="1089" width="7.5" height="7" fill="#ddc8a9"/>
<text x="194.9" y="1097.6" font-size="16.5">Preference shares</text>
<text x="348.7" y="792.2" font-size="16.5">USD bn</text>
<text x="445.5" y="821.6" font-size="20.9" font-weight="bold" text-anchor="middle">HK equity</text>
<text x="445.5" y="845.5" font-size="20.9" font-weight="bold" text-anchor="middle">capital-raising</text>
<rect x="364.3" y="951" width="40.7" height="71.5" fill="#e8c1b5"/>
<rect x="364.3" y="1024" width="40.7" height="28.5" fill="#d4d7e1"/>
<rect x="469.4" y="881" width="39.8" height="92" fill="#e8c1b5"/>
<rect x="469.4" y="974.5" width="39.8" height="78" fill="#d4d7e1"/>
<line x1="333" y1="1052.7" x2="541" y2="1052.7" stroke="#000" stroke-width="1.5"/>
<text x="488.6" y="876.5" font-size="16.5" font-weight="bold" text-anchor="middle">96</text>
<text x="432.9" y="901.4" font-size="16.5" font-weight="bold" text-anchor="middle" fill="#a23c22">+68%</text>
<text x="386.8" y="939.3" font-size="16.5" font-weight="bold" text-anchor="middle">57</text>
<text x="488.6" y="933.8" font-size="16.5" text-anchor="middle">54%</text>
<text x="516" y="933" font-size="16.5" fill="#a23c22">+28%</text>
<text x="384.3" y="993.7" font-size="16.5" text-anchor="middle">71%</text>
<text x="488.6" y="1017.8" font-size="16.5" text-anchor="middle">46%</text>
<text x="513.9" y="1017.8" font-size="16.5" fill="#a23c22">+166%</text>
<text x="384.3" y="1045.3" font-size="16.5" text-anchor="middle">29%</text>
<text x="384.3" y="1079" font-size="16.5" text-anchor="middle">2019</text>
<text x="489.2" y="1079" font-size="16.5" text-anchor="middle">2020</text>
<rect x="380.2" y="1091" width="6.5" height="7" fill="#e8c1b5"/>
<text x="390.4" y="1099.6" font-size="16.5">IPO</text>
<rect x="451.6" y="1091" width="6.5" height="7" fill="#d4d7e1"/>
<text x="462.5" y="1099.6" font-size="16.5">FO</text>
<text x="580.6" y="792.2" font-size="16.5">RMB tn</text>
<text x="689" y="820.8" font-size="20.9" font-weight="bold" text-anchor="middle">Domestic credit</text>
<text x="689" y="844.9" font-size="20.9" font-weight="bold" text-anchor="middle">bond issuance</text>
<rect x="605.3" y="930" width="39.7" height="122.5" fill="#ddc8a9"/>
<rect x="709.6" y="894" width="40.4" height="158.5" fill="#ddc8a9"/>
<line x1="573" y1="1052.7" x2="781.7" y2="1052.7" stroke="#000" stroke-width="1.5"/>
<text x="672" y="882" font-size="16.5" font-weight="bold" text-anchor="middle" fill="#a23c22">+29%</text>
<text x="729.3" y="880.6" font-size="16.5" font-weight="bold" text-anchor="middle">19.1</text>
<text x="625" y="917.3" font-size="16.5" font-weight="bold" text-anchor="middle">14.8</text>
<text x="625" y="1079" font-size="16.5" text-anchor="middle">2019</text>
<text x="729.3" y="1079" font-size="16.5" text-anchor="middle">2020</text>
<line x1="90" y1="1109" x2="795" y2="1109" stroke="#000" stroke-width="2.6"/>
<text x="95.9" y="1131.4" font-size="16.6">Source: Wind &amp; Dealogic</text>
<text x="862" y="803" font-size="16.5">RMB bn</text>
<text x="1187.4" y="807.9" font-size="20.9" font-weight="bold" text-anchor="middle">Industry Operating Revenue</text>
<text x="1187" y="832.9" font-size="20.9" font-weight="bold" text-anchor="middle">Change by Business Line</text>
<rect x="878" y="911" width="27.3" height="133.4" fill="#d0d3df"/>
<rect x="908.2" y="989.4" width="25.8" height="55" fill="#e7bbae"/>
<rect x="1462" y="854.5" width="27.6" height="189.9" fill="#d0d3df"/>
<rect x="1492" y="974" width="26" height="70.4" fill="#e7bbae"/>
<rect x="950" y="898" width="29" height="11.700000000000045" fill="#d0664c"/>
<rect x="1023" y="874" width="29" height="23.600000000000023" fill="#d0664c"/>
<rect x="1096" y="869" width="29" height="4.600000000000023" fill="#d0664c"/>
<rect x="1169" y="866" width="29" height="2.7000000000000455" fill="#d0664c"/>
<rect x="1242" y="864.8" width="29.299999999999955" height="1.8000000000000682" fill="#d0664c"/>
<rect x="1315" y="856" width="29.299999999999955" height="9" fill="#d0664c"/>
<rect x="1388" y="854" width="29.59999999999991" height="2" fill="#d0664c"/>
<rect x="901" y="854" width="12" height="12" fill="#6f86b9"/>
<rect x="1485" y="825" width="12" height="11.7" fill="#6f86b9"/>
<line x1="855.3" y1="1044.6" x2="1512" y2="1044.6" stroke="#222" stroke-width="2"/>
<text x="904.5" y="846.7" font-size="16.3" text-anchor="middle">6.3%</text>
<text x="1492.7" y="819.6" font-size="16.3" text-anchor="middle">7.3%</text>
<text x="891.2" y="909.8" font-size="16.3" text-anchor="middle">361</text>
<text x="921" y="976.5" font-size="16.3" text-anchor="middle">123</text>
<text x="1471.8" y="852.2" font-size="16.3" text-anchor="middle">449</text>
<text x="1509.7" y="960.8" font-size="16.3" text-anchor="middle">158</text>
<text x="965.2" y="896" font-size="16.3" text-anchor="middle">19</text>
<text x="1037.2" y="871.6" font-size="16.3" text-anchor="middle">37</text>
<text x="1105.8" y="867.3" font-size="16.3" text-anchor="middle">8</text>
<text x="1183.3" y="863.6" font-size="16.3" text-anchor="middle">4</text>
<text x="1256.5" y="861.6" font-size="16.3" text-anchor="middle">2</text>
<text x="1330.3" y="853" font-size="16.3" text-anchor="middle">13</text>
<text x="1402.3" y="852.7" font-size="16.3" text-anchor="middle">4</text>
<text x="962" y="925" font-size="14" text-anchor="middle">+39%</text>
<text x="1040.3" y="917.8" font-size="14" text-anchor="middle">+47%</text>
<text x="1110.6" y="891.5" font-size="14" text-anchor="middle">+149%</text>
<text x="1185.3" y="885.5" font-size="14" text-anchor="middle">+3%</text>
<text x="1258" y="885.8" font-size="14" text-anchor="middle">+9%</text>
<text x="1332.3" y="884.5" font-size="14" text-anchor="middle">+29%</text>
<text x="1406.7" y="873.8" font-size="14" text-anchor="middle">+12%</text>
<text x="891.2" y="1062.8" font-size="12.5" text-anchor="middle">2019</text>
<text x="964" y="1062.8" font-size="12.5" text-anchor="middle">IB</text>
<text x="1037.4" y="1062.8" font-size="12.5" text-anchor="middle">Commission</text>
<text x="1110.6" y="1062.8" font-size="12.5" text-anchor="middle">Product</text>
<text x="1183.3" y="1062.8" font-size="12.5" text-anchor="middle">Prop trading</text>
<text x="1256.4" y="1062.8" font-size="12.5" text-anchor="middle">AM</text>
<text x="1329.6" y="1062.8" font-size="12.5" text-anchor="middle">NII</text>
<text x="1402.5" y="1062.8" font-size="12.5" text-anchor="middle">Others</text>
<text x="1475.8" y="1062.8" font-size="12.5" text-anchor="middle">2020</text>
<text x="1110.6" y="1077.9" font-size="12.5" text-anchor="middle">sale</text>
<text x="1564.5" y="868.5" font-size="16.4" font-weight="bold" text-anchor="middle" fill="#a23c22">Operating</text>
<text x="1564.5" y="888.4" font-size="16.4" font-weight="bold" text-anchor="middle" fill="#a23c22">revenue:</text>
<text x="1564.5" y="908.4" font-size="16.4" font-weight="bold" text-anchor="middle" fill="#a23c22">+24%</text>
<text x="1569" y="991.8" font-size="16.4" font-weight="bold" text-anchor="middle" fill="#a23c22">Net profit:</text>
<text x="1569" y="1012.2" font-size="16.4" font-weight="bold" text-anchor="middle" fill="#a23c22">+28%</text>
<rect x="962" y="1093" width="39" height="7" fill="#d0d3df"/>
<text x="1010" y="1103" font-size="16.5">operating revenue</text>
<rect x="1207.6" y="1093" width="38.5" height="7" fill="#e7bbae"/>
<text x="1251.5" y="1103" font-size="16.5">net profit</text>
<line x1="1378.5" y1="1096.8" x2="1419.5" y2="1096.8" stroke="#6f86b9" stroke-width="3.2" stroke-linecap="round"/>
<rect x="1393.8" y="1092.2" width="9.6" height="9.4" fill="#6f86b9"/>
<text x="1423" y="1103" font-size="16.5">ROE</text>
<line x1="854" y1="1109" x2="1559" y2="1109" stroke="#000" stroke-width="2.6"/>
<text x="855.3" y="1125" font-size="16.8">Source: Securities Association of China</text>
<text x="855.3" y="1145.2" font-size="16.8">Note: Commission only includes net revenue from securities sales on behalf of clients</text>
<text x="855.3" y="1165.3" font-size="16.8">(including seat rental). Others include equity investment gains and investment advisory.</text>
<text x="1545.8" y="1201.7" font-size="20" text-anchor="middle">3</text>
<g><circle cx="98.6" cy="1180.9" r="41.3" fill="#6d0000"/><path d="M98.6,1139.6000000000001 A41.3,41.3 0 0 1 98.6,1222.2 Z" fill="#bb8c52"/><circle cx="98.6" cy="1191.2" r="31" fill="#6d0000"/><path d="M99.19999999999999,1159.7 L98.6,1159.7 A21.2,21.2 0 0 0 98.6,1202.1000000000001 L99.19999999999999,1202.1000000000001 Z" fill="#fff"/><path d="M98.6,1179.4 A11.8,11.8 0 0 1 98.6,1203 Z" fill="#fff"/></g>
<g font-size="38" font-weight="bold" fill="#6d0000" stroke="#6d0000" stroke-width="0.9"><text x="157.3" y="1178">C</text><text x="189.8" y="1178">I</text><text x="203.7" y="1178">C</text><text x="235.2" y="1178">C</text></g>
<g fill="none" stroke="#6d0000" stroke-linecap="butt" stroke-linejoin="miter"><path d="M160.7,1190.5 V1207.7 M160.7,1192.1 H186.4 M186.4,1190.5 V1207.7 M160.7,1206.1 H186.4" stroke-width="3.4"/><path d="M174.1,1185 V1213.6" stroke-width="5"/><path d="M208.2,1185.3 L192.8,1197.6 M208.2,1185.3 L224.8,1197.2" stroke-width="3.8"/><path d="M198.3,1200.1 H219.1 M208.7,1200 V1211.5 M194.1,1211.9 H222.7" stroke-width="3.3"/><path d="M199,1204 L201.8,1209 M218.6,1204 L215.8,1209" stroke-width="3"/><path d="M235.5,1186.4 L227,1201.2 M243.6,1186.4 L256.4,1200.6" stroke-width="3.9"/><path d="M238,1193.6 L231.6,1210.8 L251.5,1209.6 M246.2,1203.4 L252.6,1212.6" stroke-width="3.6"/><path d="M261.6,1187.2 H285.8 V1211.5 Q285.8,1213 283.5,1212.6 L281,1212" stroke-width="3.4"/><path d="M259,1193.8 H279.2" stroke-width="3.2"/><path d="M262.4,1197.3 V1211 M262.4,1198.9 H275.2 V1209.2 H262.4" stroke-width="3.2"/></g>
</svg>
</body></html>
